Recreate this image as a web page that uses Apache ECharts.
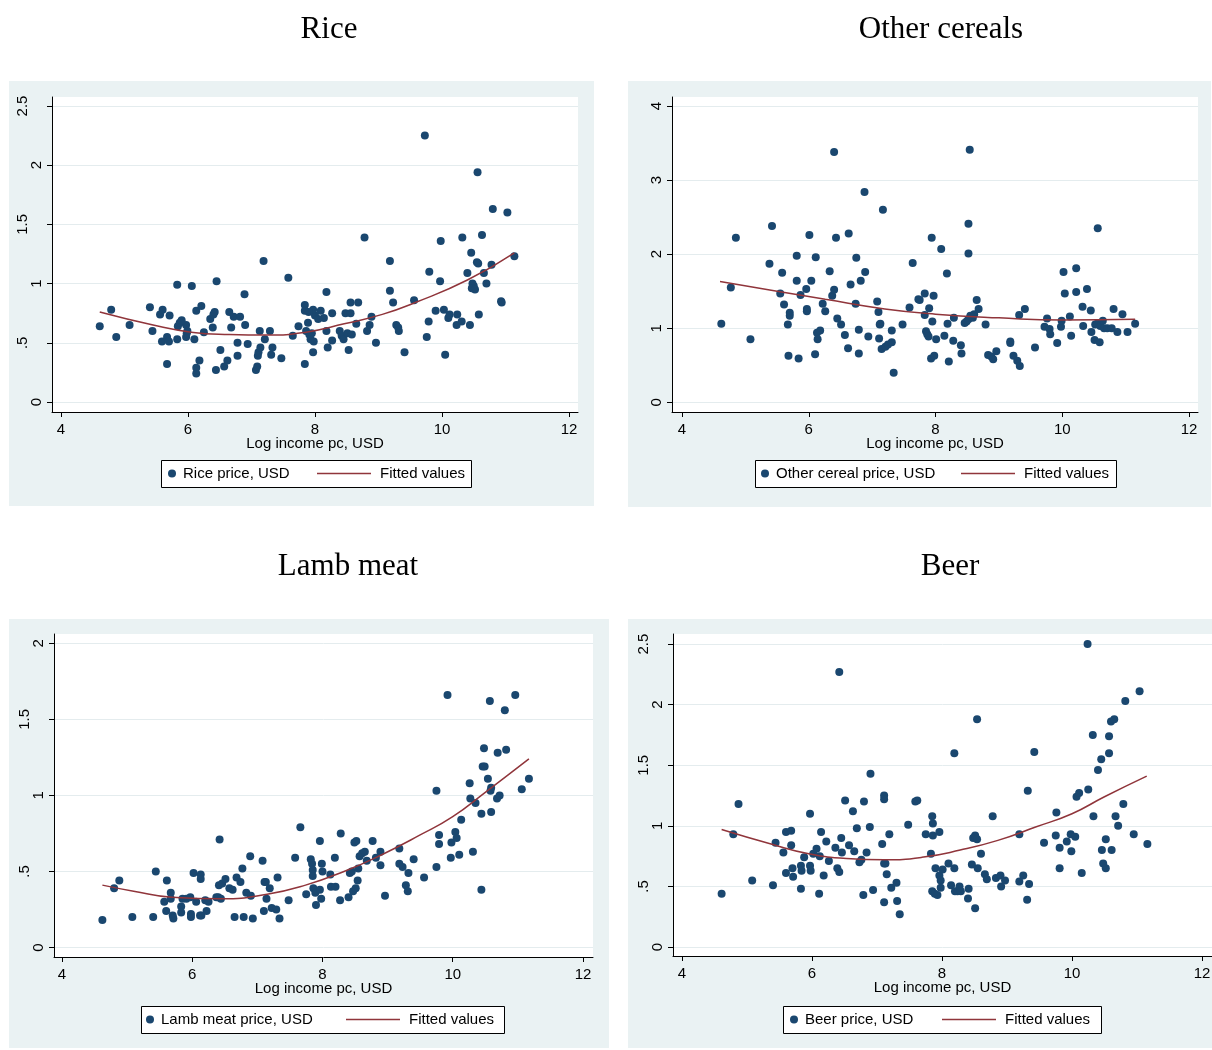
<!DOCTYPE html>
<html>
<head>
<meta charset="utf-8">
<title>Prices vs log income</title>
<script src="https://cdn.jsdelivr.net/npm/echarts@6/dist/echarts.min.js"></script>
<style>
html, body { margin: 0; padding: 0; background: #fff; }
#wrap { position: relative; width: 1212px; height: 1050px; overflow: hidden; }
.bg { position: absolute; background: #eaf2f3; }
#chart { position: absolute; left: 0; top: 0; width: 1212px; height: 1050px; }
</style>
</head>
<body>
<div id="wrap">
  <div class="bg" style="left:9px;top:81px;width:585px;height:425px"></div>
  <div class="bg" style="left:628px;top:81px;width:583px;height:426px"></div>
  <div class="bg" style="left:9px;top:619px;width:600px;height:429px"></div>
  <div class="bg" style="left:628px;top:619px;width:600px;height:429px"></div>
  <div id="chart"></div>
</div>
<script>
// x ticks shared by all four panels
const incomeTicks = [4, 6, 8, 10, 12];

// y ticks / labels (stata style, no leading zero)
const riceTicks = [0, 0.5, 1, 1.5, 2, 2.5];
const riceTickLabels = ['0', '.5', '1', '1.5', '2', '2.5'];
const cerealTicks = [0, 1, 2, 3, 4];
const cerealTickLabels = ['0', '1', '2', '3', '4'];
const lambTicks = [0, 0.5, 1, 1.5, 2];
const lambTickLabels = ['0', '.5', '1', '1.5', '2'];
const beerTicks = [0, 0.5, 1, 1.5, 2, 2.5];
const beerTickLabels = ['0', '.5', '1', '1.5', '2', '2.5'];

// [log income, price]
const ricePoints = [
  [4.61,0.64],[4.79,0.78],[4.87,0.55],[5.08,0.65],[5.40,0.80],[5.44,0.60],[5.56,0.74],[5.60,0.78],[5.59,0.51],[5.67,0.55],
  [5.67,0.32],[5.70,0.51],[5.71,0.73],[5.83,0.53],[5.84,0.64],[5.87,0.67],[5.97,0.65],[5.97,0.55],[5.98,0.58],[5.99,0.60],
  [6.10,0.53],[6.13,0.77],[6.13,0.29],[6.13,0.24],[6.18,0.35],[6.21,0.81],[6.25,0.59],[6.35,0.70],[6.39,0.63],[6.40,0.74],
  [6.42,0.76],[6.44,0.27],[6.51,0.44],[6.57,0.30],[6.62,0.35],[6.65,0.76],[6.68,0.63],[6.72,0.72],[6.78,0.50],[6.78,0.39],
  [6.82,0.72],[6.90,0.65],[6.94,0.49],[7.07,0.27],[7.09,0.30],[7.10,0.39],[7.11,0.42],[7.13,0.60],[7.14,0.46],[7.21,0.53],
  [7.29,0.60],[7.31,0.40],[7.33,0.46],[7.47,0.37],[7.65,0.56],[7.74,0.64],[7.84,0.82],[7.84,0.77],[7.84,0.32],[7.86,0.60],
  [7.89,0.67],[7.91,0.57],[7.93,0.53],[7.95,0.58],[7.97,0.42],[7.98,0.51],[8.00,0.73],[8.09,0.77],[8.14,0.71],[8.18,0.60],
  [8.20,0.46],[8.27,0.52],[8.27,0.75],[8.39,0.60],[8.42,0.56],[8.45,0.53],[8.48,0.75],[8.51,0.58],[8.53,0.44],[8.56,0.84],
  [8.56,0.75],[8.58,0.57],[8.65,0.66],[8.68,0.84],[8.82,0.60],[8.86,0.65],[8.89,0.72],[8.96,0.50],[9.23,0.84],[9.28,0.65],
  [9.31,0.63],[9.32,0.60],[9.41,0.42],[9.76,0.55],[9.79,0.68],[9.90,0.77],[10.03,0.78],[10.05,0.40],[10.10,0.71],[10.12,0.74],
  [10.23,0.65],[10.24,0.74],[10.31,0.68],[10.44,0.65],[10.58,0.74],[10.94,0.84],
  [7.19,1.19],[7.58,1.05],[5.83,0.99],[6.06,0.98],[6.45,1.02],[6.89,0.91],[5.90,0.69],
  [9.73,2.25],[10.56,1.94],[10.80,1.63],[11.03,1.60],[8.78,1.39],[9.98,1.36],[10.32,1.39],[10.63,1.41],[10.46,1.26],
  [10.55,1.18],[10.57,1.17],[10.78,1.16],[11.14,1.23],[9.18,1.19],[9.80,1.10],[10.40,1.09],[10.66,1.09],[9.97,1.02],
  [10.48,1.00],[10.50,0.98],[10.47,0.96],[10.52,0.95],[10.70,1.00],[10.93,0.85],[9.18,0.94],[9.56,0.86],[8.18,0.93],
  [7.97,0.78],[8.05,0.70],[7.90,0.76]
];
const riceFit = [
  [4.61,0.76],[5.45,0.65],[6.05,0.59],[6.65,0.57],[7.25,0.565],[7.86,0.59],[8.46,0.66],[9.06,0.74],[9.58,0.84],[10.4,1.03],[11.14,1.26]
];

const cerealPoints = [
  [4.62,1.06],[5.08,0.85],[5.61,1.32],[5.67,1.05],[5.68,0.63],[5.70,1.21],[5.70,1.17],[5.84,0.59],[5.97,1.26],[5.97,1.23],
  [6.10,0.65],[6.13,0.94],[6.14,0.85],[6.18,0.97],[6.22,1.33],[6.26,1.23],[6.45,1.13],[6.51,1.05],[6.57,0.91],[6.62,0.73],
  [6.74,1.33],[6.79,0.98],[6.79,0.66],[6.94,0.89],[7.08,1.36],[7.10,1.22],[7.12,1.05],[7.13,1.06],[7.11,0.86],[7.15,0.72],
  [7.21,0.75],[7.25,0.78],[7.31,0.81],[7.31,0.97],[7.34,0.40],[7.48,1.05],[7.59,1.28],[7.75,1.38],[7.83,1.18],[7.85,0.96],
  [7.87,0.92],[7.89,0.89],[7.90,1.27],[7.93,0.59],[7.95,1.09],[7.98,0.63],[8.01,0.85],[8.14,0.90],[8.19,1.06],[8.21,0.55],
  [8.28,0.83],[8.29,1.14],[8.40,0.77],[8.41,0.66],[8.46,1.07],[8.49,1.09],[8.52,1.12],[8.55,1.17],[8.59,1.14],[8.61,1.19],
  [8.65,1.38],[8.68,1.26],[8.79,1.05],[8.83,0.64],[8.88,0.62],[8.91,0.58],[8.96,0.69],[9.18,0.82],[9.18,0.80],[9.23,0.63],
  [9.29,0.56],[9.33,0.49],[9.32,1.18],[9.41,1.26],[9.57,0.74],[9.72,1.02],[9.76,1.13],[9.80,0.99],[9.81,0.92],[9.92,0.80],
  [9.98,1.02],[9.99,1.10],[10.12,1.16],[10.14,0.90],[10.33,1.03],[10.32,1.29],[10.46,0.95],[10.45,1.24],[10.51,0.84],[10.52,1.05],
  [10.55,1.06],[10.60,1.03],[10.64,1.10],[10.66,1.00],[10.71,1.00],[10.78,1.00],[10.59,0.81],[10.81,1.26],[10.87,0.95],[10.95,1.19],
  [11.03,0.95],[11.15,1.06],
  [4.77,1.55],[4.85,2.22],[5.38,1.87],[5.42,2.38],[5.55,1.47],[5.58,1.75],[5.81,1.98],[5.81,1.64],[5.87,1.45],[5.96,1.53],
  [6.01,2.26],[6.04,1.64],[6.11,1.96],[6.33,1.77],[6.37,1.44],[6.40,3.38],[6.40,1.52],[6.43,2.22],[6.63,2.28],[6.66,1.59],
  [6.75,1.95],[6.82,1.64],[6.88,2.84],[6.89,1.76],[7.17,2.60],[7.64,1.88],[7.73,1.39],
  [8.54,3.41],[8.52,2.41],[8.52,2.01],[7.94,2.22],[8.09,2.07],[8.18,1.74],[7.83,1.47],[7.97,1.44],[10.02,1.76],[10.04,1.47],
  [10.22,1.81],[10.22,1.49],[10.39,1.53],[10.56,2.35]
];
const cerealFit = [
  [4.6,1.63],[5.5,1.50],[6.26,1.39],[7.2,1.26],[8.0,1.19],[9.0,1.14],[10.0,1.11],[11.15,1.12]
];

const lambPoints = [
  [4.62,0.18],[4.80,0.39],[4.88,0.44],[5.08,0.20],[5.40,0.20],[5.44,0.50],[5.57,0.30],[5.60,0.24],[5.61,0.44],[5.67,0.36],
  [5.67,0.32],[5.70,0.21],[5.71,0.19],[5.83,0.27],[5.83,0.23],[5.85,0.32],[5.91,0.32],[5.97,0.33],[5.98,0.22],[5.98,0.20],
  [6.02,0.49],[6.06,0.30],[6.12,0.21],[6.14,0.21],[6.13,0.48],[6.13,0.45],[6.20,0.31],[6.22,0.24],[6.25,0.30],[6.37,0.33],
  [6.40,0.33],[6.42,0.71],[6.41,0.41],[6.46,0.42],[6.51,0.45],[6.44,0.32],[6.57,0.39],[6.62,0.38],[6.65,0.20],[6.68,0.46],
  [6.74,0.43],[6.77,0.52],[6.79,0.20],[6.83,0.36],[6.89,0.60],[6.90,0.34],[6.93,0.19],[7.08,0.57],[7.10,0.24],[7.11,0.43],
  [7.13,0.43],[7.14,0.32],[7.19,0.39],[7.22,0.26],[7.29,0.25],[7.31,0.46],[7.34,0.19],[7.48,0.31],[7.58,0.59],[7.66,0.79],
  [7.75,0.35],[7.82,0.58],[7.84,0.55],[7.85,0.51],[7.85,0.47],[7.86,0.39],[7.89,0.36],[7.90,0.28],[7.96,0.38],[7.96,0.70],
  [7.99,0.55],[7.98,0.32],[8.00,0.50],[8.12,0.48],[8.13,0.40],[8.19,0.59],[8.20,0.40],[8.28,0.75],[8.27,0.31],[8.40,0.33],
  [8.42,0.49],[8.45,0.50],[8.47,0.37],[8.51,0.39],[8.49,0.69],[8.52,0.70],[8.54,0.44],[8.55,0.52],[8.57,0.60],[8.61,0.62],
  [8.65,0.63],[8.68,0.57],[8.77,0.70],[8.82,0.59],[8.89,0.63],[8.89,0.54],[8.96,0.34],[9.18,0.65],[9.18,0.55],[9.23,0.53],
  [9.28,0.41],[9.31,0.37],[9.32,0.49],[9.40,0.58],[9.56,0.46],[9.75,0.53],[9.79,0.74],[9.79,0.68],[9.97,0.59],[9.98,0.69],
  [10.04,0.76],[10.06,0.72],[10.10,0.61],[10.13,0.84],[10.31,0.63],[10.44,0.38],
  [9.92,1.66],[10.57,1.62],[10.96,1.66],[10.80,1.56],[10.48,1.31],[10.69,1.28],[10.82,1.30],[10.46,1.19],[10.49,1.19],[10.54,1.11],
  [11.17,1.11],[10.26,1.08],[10.59,1.05],[10.58,1.03],[11.06,1.04],[9.75,1.03],[10.27,0.98],[10.35,0.95],[10.68,0.98],[10.72,1.00],
  [10.44,0.88],[10.59,0.89]
];
const lambFit = [
  [4.62,0.41],[5.1,0.37],[5.69,0.33],[6.45,0.32],[7.15,0.35],[7.74,0.41],[8.33,0.50],[8.91,0.61],[9.5,0.74],[10.0,0.86],[10.5,1.02],[11.17,1.24]
];

const beerPoints = [
  [4.61,0.44],[4.79,0.93],[5.08,0.55],[5.40,0.51],[5.44,0.86],[5.56,0.78],[5.60,0.95],[5.68,0.96],[5.60,0.61],[5.68,0.84],
  [5.70,0.65],[5.71,0.58],[5.83,0.48],[5.83,0.67],[5.84,0.63],[5.88,0.74],[5.97,0.67],[5.98,0.63],[6.02,0.77],[6.07,0.81],
  [6.11,0.44],[6.12,0.75],[6.14,0.95],[6.18,0.59],[6.22,0.87],[6.26,0.71],[6.36,0.82],[6.39,0.65],[6.42,0.62],[6.45,0.90],
  [6.46,0.78],[6.57,0.84],[6.65,0.79],[6.69,0.98],[6.73,0.70],[6.76,0.72],[6.79,0.43],[6.84,0.78],[6.89,0.99],[6.94,0.47],
  [7.08,0.85],[7.11,0.37],[7.11,0.69],[7.13,0.69],[7.15,0.60],[7.19,0.93],[7.22,0.49],[7.30,0.53],[7.31,0.38],[7.35,0.27],
  [7.48,1.01],[7.75,0.93],[7.86,0.92],[7.86,1.02],[7.83,0.77],[7.85,0.46],[7.89,0.44],[7.93,0.43],[7.90,0.65],[7.96,0.59],
  [7.98,0.55],[7.98,0.49],[7.96,0.95],[8.01,0.64],[8.10,0.69],[8.14,0.51],[8.19,0.65],[8.20,0.46],[8.24,0.46],[8.27,0.50],
  [8.29,0.46],[8.40,0.40],[8.41,0.48],[8.46,0.68],[8.48,0.90],[8.51,0.92],[8.54,0.89],[8.51,0.32],[8.55,0.65],[8.60,0.77],
  [8.66,0.60],[8.69,0.56],[8.83,0.57],[8.90,0.59],[8.91,0.50],[8.97,0.55],[9.19,0.93],[9.19,0.54],[9.25,0.59],[9.31,0.39],
  [9.34,0.52],[9.57,0.86],[9.75,0.92],[9.81,0.82],[9.81,0.65],[9.92,0.87],[9.98,0.93],[9.99,0.79],[10.05,0.91],[10.15,0.61],
  [10.46,0.80],[10.48,0.69],[10.52,0.65],[10.52,0.89],[10.61,0.80],[10.71,1.00],[10.95,0.93],[11.16,0.85],
  [4.87,1.18],[5.97,1.10],[6.42,2.27],[6.51,1.21],[6.63,1.12],[6.80,1.20],[6.90,1.43],[7.11,1.25],[7.11,1.22],[7.59,1.20],
  [7.62,1.21],[10.24,2.50],[11.04,2.11],[10.82,2.03],[8.54,1.88],[10.60,1.86],[10.65,1.88],[10.32,1.75],[10.57,1.74],[8.19,1.60],
  [9.42,1.61],[10.57,1.60],[10.45,1.55],[10.40,1.46],[9.32,1.29],[10.25,1.30],[10.07,1.24],[10.11,1.27],[10.79,1.18],[9.76,1.11],
  [7.85,1.08],[8.78,1.08],[10.67,1.08],[10.33,1.08]
];
const beerFit = [
  [4.61,0.97],[5.37,0.85],[5.95,0.77],[6.53,0.73],[7.11,0.72],[7.69,0.74],[8.28,0.80],[8.86,0.88],[9.44,0.99],[10.0,1.10],[10.5,1.24],[11.15,1.41]
];

const SANS = "'Liberation Sans', Arial, sans-serif";
const SERIF = "'Liberation Serif', 'Times New Roman', serif";
const NAVY = '#1a476f';
const MAROON = '#90353b';

// layout of each sub graph (pixels), kept apart from the data
const panels = [
  { title: 'Rice', name: 'Rice price, USD', points: ricePoints, fit: riceFit, ticks: riceTicks, labels: riceTickLabels,
    grid: [52, 97, 526, 315], xr: [3.858, 12.142], yr: [-0.0845, 2.576], tx: 329, ty: 27,
    box: [161, 460, 310, 27], dot: 172, line: 317 },
  { title: 'Other cereals', name: 'Other cereal price, USD', points: cerealPoints, fit: cerealFit, ticks: cerealTicks, labels: cerealTickLabels,
    grid: [672, 97, 526, 315], xr: [3.842, 12.142], yr: [-0.131, 4.122], tx: 941, ty: 27,
    box: [755, 460, 361, 27], dot: 765, line: 961 },
  { title: 'Lamb meat', name: 'Lamb meat price, USD', points: lambPoints, fit: lambFit, ticks: lambTicks, labels: lambTickLabels,
    grid: [54, 634, 539, 323], xr: [3.877, 12.154], yr: [-0.0625, 2.061], tx: 348, ty: 564,
    box: [141, 1006, 363, 27], dot: 150, line: 346 },
  { title: 'Beer', name: 'Beer price, USD', points: beerPoints, fit: beerFit, ticks: beerTicks, labels: beerTickLabels,
    grid: [673, 634, 539, 322], xr: [3.862, 12.154], yr: [-0.074, 2.583], tx: 950, ty: 564,
    box: [783, 1006, 318, 27], dot: 794, line: 942 }
];

const chart = echarts.init(document.getElementById('chart'));

const opt = {
  animation: false,
  backgroundColor: 'transparent',
  title: [], grid: [], xAxis: [], yAxis: [], series: [], legend: [], graphic: []
};

panels.forEach((p, i) => {
  opt.title.push({
    text: p.title, left: p.tx, top: p.ty - 13, textAlign: 'center', padding: 0,
    textStyle: { fontFamily: SERIF, fontSize: 31, fontWeight: 'normal', color: '#000' }
  });
  opt.grid.push({
    left: p.grid[0], top: p.grid[1], width: p.grid[2], height: p.grid[3],
    show: true, backgroundColor: '#fff', borderWidth: 0, containLabel: false, outerBoundsMode: 'none'
  });
  opt.xAxis.push({
    gridIndex: i, type: 'value', min: p.xr[0], max: p.xr[1],
    name: 'Log income pc, USD', nameLocation: 'middle', nameGap: 24, nameMoveOverlap: false,
    nameTextStyle: { fontFamily: SANS, fontSize: 15, color: '#000' },
    axisLine: { show: true, onZero: false, lineStyle: { color: '#000', width: 1 } },
    axisTick: { show: true, length: 5, customValues: incomeTicks, lineStyle: { color: '#000' } },
    axisLabel: { customValues: incomeTicks, margin: 10, fontFamily: SANS, fontSize: 15, color: '#000' },
    splitLine: { show: false }
  });
  opt.yAxis.push({
    gridIndex: i, type: 'value', min: p.yr[0], max: p.yr[1],
    axisLine: { show: true, onZero: false, lineStyle: { color: '#000', width: 1 } },
    axisTick: { show: true, length: 5, customValues: p.ticks, lineStyle: { color: '#000' } },
    axisLabel: {
      customValues: p.ticks, rotate: 90, margin: 8,
      formatter: (v) => {
        const s = p.labels[p.ticks.indexOf(v)];
        return s.length > 1 ? '{m|' + s + '}' : '{s|' + s + '}';
      },
      rich: {
        s: { fontFamily: SANS, fontSize: 15, color: '#000' },
        m: { fontFamily: SANS, fontSize: 15, color: '#000', padding: [0, 0, 14, 0] }
      }
    },
    splitLine: { show: true, lineStyle: { color: '#e4ecee', width: 1 } }
  });
  opt.series.push({
    type: 'scatter', name: p.name, xAxisIndex: i, yAxisIndex: i,
    data: p.points, symbol: 'circle', symbolSize: 8,
    itemStyle: { color: NAVY, opacity: 1 }, z: 2
  });
  opt.series.push({
    type: 'line', name: 'Fitted values', xAxisIndex: i, yAxisIndex: i,
    data: p.fit, smooth: true, symbol: 'none', showSymbol: false,
    lineStyle: { color: MAROON, width: 1.5 }, itemStyle: { color: MAROON }, z: 3
  });

  const cy = p.box[1] + p.box[3] / 2;
  opt.graphic.push({
    type: 'rect', z: 1,
    shape: { x: p.box[0] + 0.5, y: p.box[1] + 0.5, width: p.box[2], height: p.box[3] },
    style: { fill: '#fff', stroke: '#000', lineWidth: 1 }
  });
  opt.legend.push({
    data: [{ name: p.name, icon: 'circle' }], selectedMode: false,
    left: p.dot - 4, top: cy - 8, padding: 0, itemWidth: 8, itemHeight: 8,
    textStyle: { fontFamily: SANS, fontSize: 15, color: '#000', lineHeight: 16, padding: [0, 0, 0, 2] }
  });
  // plain line key: thin rect instead of the line+dot icon
  opt.legend.push({
    data: [{ name: 'Fitted values', icon: 'rect' }], selectedMode: false,
    left: p.line, top: cy - 8, padding: 0, itemWidth: 54, itemHeight: 1.5,
    textStyle: { fontFamily: SANS, fontSize: 15, color: '#000', lineHeight: 16, padding: [0, 0, 0, 4] }
  });
});

chart.setOption(opt);
</script>
</body>
</html>
